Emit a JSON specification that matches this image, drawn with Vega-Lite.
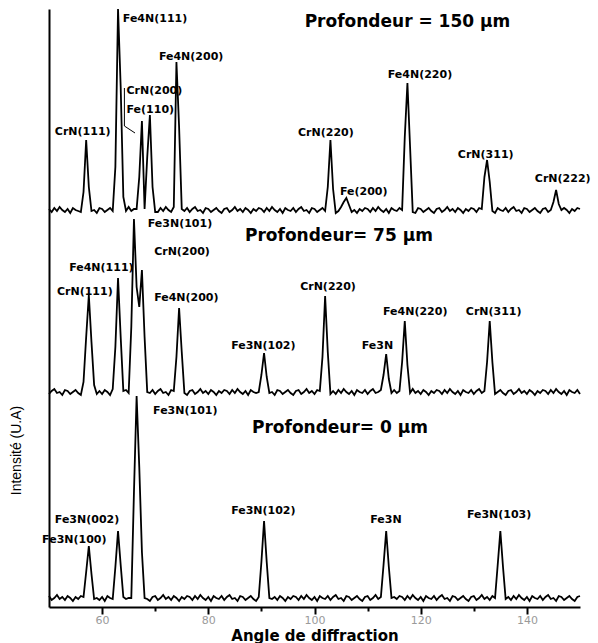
{
  "$schema": "https://vega.github.io/schema/vega-lite/v6.json",
  "width": 531,
  "height": 598,
  "autosize": "none",
  "padding": {"left": 49, "top": 9, "right": 18, "bottom": 36},
  "background": "white",
  "config": {"view": {"stroke": null}, "axis": {"grid": false}},
  "datasets": {
    "scans": [
      {"x":50,"h150":398,"h75":213,"h0":11},{"x":50.5,"h150":395,"h75":216,"h0":7},{"x":51,"h150":399,"h75":218,"h0":9},{"x":51.5,"h150":396,"h75":214,"h0":12},
      {"x":52,"h150":400,"h75":215,"h0":8},{"x":52.5,"h150":397,"h75":212,"h0":10},{"x":53,"h150":395,"h75":217,"h0":7},{"x":53.5,"h150":398,"h75":216,"h0":11},
      {"x":54,"h150":394,"h75":213,"h0":9},{"x":54.5,"h150":399,"h75":215,"h0":6},{"x":55,"h150":397,"h75":217,"h0":10},{"x":55.5,"h150":396,"h75":214,"h0":8},
      {"x":56,"h150":395,"h75":212,"h0":11},{"x":56.5,"h150":415,"h75":225,"h0":10},{"x":57,"h150":467,"h75":270,"h0":35},{"x":57.5,"h150":420,"h75":312,"h0":61},
      {"x":58,"h150":396,"h75":265,"h0":33},{"x":58.5,"h150":397,"h75":222,"h0":8},{"x":59,"h150":394,"h75":213,"h0":9},{"x":59.5,"h150":399,"h75":216,"h0":7},
      {"x":60,"h150":398,"h75":213,"h0":10},{"x":60.5,"h150":395,"h75":217,"h0":6},{"x":61,"h150":397,"h75":215,"h0":11},{"x":61.5,"h150":399,"h75":212,"h0":9},
      {"x":62,"h150":396,"h75":218,"h0":8},{"x":62.5,"h150":440,"h75":260,"h0":40},{"x":63,"h150":598,"h75":329,"h0":76},{"x":63.5,"h150":520,"h75":270,"h0":42},
      {"x":64,"h150":410,"h75":216,"h0":10},{"x":64.5,"h150":396,"h75":217,"h0":8},{"x":65,"h150":400,"h75":214,"h0":9},{"x":65.5,"h150":396,"h75":280,"h0":9},
      {"x":66,"h150":398,"h75":388,"h0":115},{"x":66.5,"h150":398,"h75":320,"h0":211},{"x":67,"h150":430,"h75":300,"h0":140},{"x":67.5,"h150":486,"h75":337,"h0":55},
      {"x":68,"h150":398,"h75":270,"h0":9},{"x":68.5,"h150":450,"h75":215,"h0":8},{"x":69,"h150":492,"h75":214,"h0":6},{"x":69.5,"h150":420,"h75":217,"h0":10},
      {"x":70,"h150":395,"h75":213,"h0":11},{"x":70.5,"h150":395,"h75":216,"h0":7},{"x":71,"h150":399,"h75":218,"h0":9},{"x":71.5,"h150":396,"h75":214,"h0":12},
      {"x":72,"h150":400,"h75":215,"h0":8},{"x":72.5,"h150":397,"h75":212,"h0":10},{"x":73,"h150":395,"h75":217,"h0":7},{"x":73.5,"h150":400,"h75":216,"h0":11},
      {"x":74,"h150":545,"h75":250,"h0":9},{"x":74.5,"h150":480,"h75":299,"h0":6},{"x":75,"h150":398,"h75":255,"h0":10},{"x":75.5,"h150":396,"h75":214,"h0":8},
      {"x":76,"h150":399,"h75":212,"h0":11},{"x":76.5,"h150":395,"h75":216,"h0":10},{"x":77,"h150":398,"h75":217,"h0":7},{"x":77.5,"h150":400,"h75":213,"h0":11},
      {"x":78,"h150":396,"h75":215,"h0":8},{"x":78.5,"h150":397,"h75":218,"h0":12},{"x":79,"h150":394,"h75":214,"h0":9},{"x":79.5,"h150":399,"h75":216,"h0":7},
      {"x":80,"h150":398,"h75":213,"h0":10},{"x":80.5,"h150":395,"h75":217,"h0":6},{"x":81,"h150":397,"h75":215,"h0":11},{"x":81.5,"h150":399,"h75":212,"h0":9},
      {"x":82,"h150":396,"h75":216,"h0":8},{"x":82.5,"h150":394,"h75":214,"h0":11},{"x":83,"h150":398,"h75":217,"h0":7},{"x":83.5,"h150":399,"h75":216,"h0":10},
      {"x":84,"h150":395,"h75":213,"h0":12},{"x":84.5,"h150":397,"h75":217,"h0":8},{"x":85,"h150":400,"h75":214,"h0":9},{"x":85.5,"h150":396,"h75":218,"h0":6},
      {"x":86,"h150":398,"h75":215,"h0":11},{"x":86.5,"h150":395,"h75":213,"h0":10},{"x":87,"h150":399,"h75":216,"h0":7},{"x":87.5,"h150":397,"h75":212,"h0":9},
      {"x":88,"h150":394,"h75":217,"h0":11},{"x":88.5,"h150":398,"h75":215,"h0":8},{"x":89,"h150":396,"h75":214,"h0":6},{"x":89.5,"h150":399,"h75":215,"h0":10},
      {"x":90,"h150":398,"h75":232,"h0":45},{"x":90.5,"h150":395,"h75":254,"h0":86},{"x":91,"h150":399,"h75":230,"h0":45},{"x":91.5,"h150":396,"h75":214,"h0":9},
      {"x":92,"h150":400,"h75":215,"h0":8},{"x":92.5,"h150":397,"h75":212,"h0":10},{"x":93,"h150":395,"h75":217,"h0":7},{"x":93.5,"h150":398,"h75":216,"h0":11},
      {"x":94,"h150":394,"h75":213,"h0":9},{"x":94.5,"h150":399,"h75":215,"h0":6},{"x":95,"h150":397,"h75":217,"h0":10},{"x":95.5,"h150":396,"h75":214,"h0":8},
      {"x":96,"h150":399,"h75":212,"h0":11},{"x":96.5,"h150":395,"h75":216,"h0":10},{"x":97,"h150":398,"h75":217,"h0":7},{"x":97.5,"h150":400,"h75":213,"h0":11},
      {"x":98,"h150":396,"h75":215,"h0":8},{"x":98.5,"h150":397,"h75":218,"h0":12},{"x":99,"h150":394,"h75":214,"h0":9},{"x":99.5,"h150":399,"h75":216,"h0":7},
      {"x":100,"h150":398,"h75":213,"h0":10},{"x":100.5,"h150":395,"h75":217,"h0":6},{"x":101,"h150":397,"h75":216,"h0":11},{"x":101.5,"h150":399,"h75":250,"h0":9},
      {"x":102,"h150":396,"h75":311,"h0":8},{"x":102.5,"h150":420,"h75":255,"h0":11},{"x":103,"h150":467,"h75":213,"h0":7},{"x":103.5,"h150":418,"h75":216,"h0":10},
      {"x":104,"h150":394,"h75":213,"h0":12},{"x":104.5,"h150":396,"h75":217,"h0":8},{"x":105,"h150":400,"h75":214,"h0":9},{"x":105.5,"h150":405,"h75":218,"h0":6},
      {"x":106,"h150":409,"h75":215,"h0":11},{"x":106.5,"h150":402,"h75":213,"h0":10},{"x":107,"h150":395,"h75":216,"h0":7},{"x":107.5,"h150":397,"h75":212,"h0":9},
      {"x":108,"h150":394,"h75":217,"h0":11},{"x":108.5,"h150":398,"h75":215,"h0":8},{"x":109,"h150":396,"h75":214,"h0":6},{"x":109.5,"h150":399,"h75":217,"h0":10},
      {"x":110,"h150":398,"h75":213,"h0":11},{"x":110.5,"h150":395,"h75":216,"h0":7},{"x":111,"h150":399,"h75":218,"h0":9},{"x":111.5,"h150":396,"h75":214,"h0":12},
      {"x":112,"h150":400,"h75":215,"h0":8},{"x":112.5,"h150":397,"h75":217,"h0":10},{"x":113,"h150":395,"h75":232,"h0":42},{"x":113.5,"h150":398,"h75":253,"h0":76},
      {"x":114,"h150":394,"h75":228,"h0":40},{"x":114.5,"h150":399,"h75":214,"h0":9},{"x":115,"h150":397,"h75":217,"h0":10},{"x":115.5,"h150":396,"h75":214,"h0":8},
      {"x":116,"h150":399,"h75":216,"h0":11},{"x":116.5,"h150":397,"h75":245,"h0":10},{"x":117,"h150":470,"h75":286,"h0":7},{"x":117.5,"h150":524,"h75":242,"h0":11},
      {"x":118,"h150":460,"h75":214,"h0":8},{"x":118.5,"h150":395,"h75":218,"h0":12},{"x":119,"h150":394,"h75":214,"h0":9},{"x":119.5,"h150":399,"h75":216,"h0":7},
      {"x":120,"h150":398,"h75":213,"h0":10},{"x":120.5,"h150":395,"h75":217,"h0":6},{"x":121,"h150":397,"h75":215,"h0":11},{"x":121.5,"h150":399,"h75":212,"h0":9},
      {"x":122,"h150":396,"h75":216,"h0":8},{"x":122.5,"h150":394,"h75":214,"h0":11},{"x":123,"h150":398,"h75":217,"h0":7},{"x":123.5,"h150":399,"h75":216,"h0":10},
      {"x":124,"h150":395,"h75":213,"h0":12},{"x":124.5,"h150":397,"h75":217,"h0":8},{"x":125,"h150":400,"h75":214,"h0":9},{"x":125.5,"h150":396,"h75":218,"h0":6},
      {"x":126,"h150":398,"h75":215,"h0":11},{"x":126.5,"h150":395,"h75":213,"h0":10},{"x":127,"h150":399,"h75":216,"h0":7},{"x":127.5,"h150":397,"h75":212,"h0":9},
      {"x":128,"h150":394,"h75":217,"h0":11},{"x":128.5,"h150":398,"h75":215,"h0":8},{"x":129,"h150":396,"h75":214,"h0":6},{"x":129.5,"h150":399,"h75":217,"h0":10},
      {"x":130,"h150":398,"h75":213,"h0":11},{"x":130.5,"h150":395,"h75":216,"h0":7},{"x":131,"h150":399,"h75":218,"h0":9},{"x":131.5,"h150":398,"h75":214,"h0":12},
      {"x":132,"h150":430,"h75":216,"h0":8},{"x":132.5,"h150":447,"h75":245,"h0":10},{"x":133,"h150":425,"h75":286,"h0":7},{"x":133.5,"h150":396,"h75":245,"h0":11},
      {"x":134,"h150":394,"h75":213,"h0":9},{"x":134.5,"h150":399,"h75":215,"h0":42},{"x":135,"h150":397,"h75":217,"h0":76},{"x":135.5,"h150":396,"h75":214,"h0":40},
      {"x":136,"h150":399,"h75":212,"h0":8},{"x":136.5,"h150":395,"h75":216,"h0":10},{"x":137,"h150":398,"h75":217,"h0":7},{"x":137.5,"h150":400,"h75":213,"h0":11},
      {"x":138,"h150":396,"h75":215,"h0":8},{"x":138.5,"h150":397,"h75":218,"h0":12},{"x":139,"h150":394,"h75":214,"h0":9},{"x":139.5,"h150":399,"h75":216,"h0":7},
      {"x":140,"h150":398,"h75":213,"h0":10},{"x":140.5,"h150":395,"h75":217,"h0":6},{"x":141,"h150":397,"h75":215,"h0":11},{"x":141.5,"h150":399,"h75":212,"h0":9},
      {"x":142,"h150":396,"h75":216,"h0":8},{"x":142.5,"h150":394,"h75":214,"h0":11},{"x":143,"h150":398,"h75":217,"h0":7},{"x":143.5,"h150":399,"h75":216,"h0":10},
      {"x":144,"h150":395,"h75":213,"h0":12},{"x":144.5,"h150":397,"h75":217,"h0":8},{"x":145,"h150":405,"h75":214,"h0":9},{"x":145.5,"h150":417,"h75":218,"h0":6},
      {"x":146,"h150":403,"h75":215,"h0":11},{"x":146.5,"h150":397,"h75":213,"h0":10},{"x":147,"h150":399,"h75":216,"h0":7},{"x":147.5,"h150":397,"h75":212,"h0":9},
      {"x":148,"h150":394,"h75":217,"h0":11},{"x":148.5,"h150":398,"h75":215,"h0":8},{"x":149,"h150":396,"h75":214,"h0":6},{"x":149.5,"h150":399,"h75":217,"h0":10},
      {"x":150,"h150":398,"h75":213,"h0":11}
    ],
    "peaks": [
      {"label":"Fe4N(111)","x":63.9,"y":588},
      {"label":"Fe4N(200)","x":70.7,"y":550},
      {"label":"CrN(200)","x":64.6,"y":516},
      {"label":"Fe(110)","x":64.6,"y":497},
      {"label":"CrN(111)","x":51.1,"y":475},
      {"label":"CrN(220)","x":96.9,"y":474},
      {"label":"Fe(200)","x":104.8,"y":415},
      {"label":"Fe4N(220)","x":113.8,"y":532},
      {"label":"CrN(311)","x":127.0,"y":452},
      {"label":"CrN(222)","x":141.5,"y":428},
      {"label":"Fe3N(101)","x":68.6,"y":383},
      {"label":"CrN(200)","x":69.8,"y":355},
      {"label":"Fe4N(111)","x":53.8,"y":339},
      {"label":"CrN(111)","x":51.5,"y":315},
      {"label":"Fe4N(200)","x":69.8,"y":309},
      {"label":"Fe3N(102)","x":84.3,"y":261},
      {"label":"CrN(220)","x":97.3,"y":320},
      {"label":"Fe3N","x":108.9,"y":261},
      {"label":"Fe4N(220)","x":112.9,"y":295},
      {"label":"CrN(311)","x":128.5,"y":295},
      {"label":"Fe3N(101)","x":69.6,"y":196},
      {"label":"Fe3N(002)","x":51.1,"y":87},
      {"label":"Fe3N(100)","x":48.7,"y":67},
      {"label":"Fe3N(102)","x":84.3,"y":96},
      {"label":"Fe3N","x":110.5,"y":87},
      {"label":"Fe3N(103)","x":128.7,"y":92}
    ],
    "depths": [
      {"label":"Profondeur = 150 µm","x":117.5,"y":585},
      {"label":"Profondeur= 75 µm","x":104.6,"y":371},
      {"label":"Profondeur= 0 µm","x":104.8,"y":179}
    ],
    "leader": [
      {"k":0,"x":64.2,"y":519},
      {"k":1,"x":64.2,"y":481},
      {"k":2,"x":66.2,"y":474}
    ]
  },
  "layer": [
    {
      "data": {"name": "peaks"},
      "mark": {"type": "text", "font": "DejaVu Sans", "fontWeight": "bold", "fontSize": 11, "align": "left", "baseline": "middle", "color": "black"},
      "encoding": {
        "x": {"field": "x", "type": "quantitative"},
        "y": {"field": "y", "type": "quantitative"},
        "text": {"field": "label"}
      }
    },
    {
      "data": {"name": "depths"},
      "mark": {"type": "text", "font": "DejaVu Sans", "fontWeight": "bold", "fontSize": 17, "align": "center", "baseline": "middle", "color": "black"},
      "encoding": {
        "x": {"field": "x", "type": "quantitative"},
        "y": {"field": "y", "type": "quantitative"},
        "text": {"field": "label"}
      }
    },
    {
      "data": {"name": "leader"},
      "mark": {"type": "line", "color": "black", "strokeWidth": 1},
      "encoding": {
        "x": {"field": "x", "type": "quantitative"},
        "y": {"field": "y", "type": "quantitative"},
        "order": {"field": "k"}
      }
    },
    {
      "data": {"name": "scans"},
      "transform": [{"fold": ["h150", "h75", "h0"], "as": ["depth", "y"]}],
      "mark": {"type": "line", "color": "black", "strokeWidth": 1.8},
      "encoding": {
        "x": {
          "field": "x", "type": "quantitative",
          "scale": {"domain": [50, 150], "nice": false, "zero": false},
          "axis": {
            "values": [60, 70, 80, 90, 100, 110, 120, 130, 140],
            "labelExpr": "datum.value % 20 === 0 ? datum.label : ''",
            "tickSize": {"condition": {"test": "datum.value % 20 === 0", "value": 7}, "value": 4},
            "tickWidth": 2, "tickColor": "black",
            "domainColor": "black", "domainWidth": 2,
            "labelColor": "#9a9a9a", "labelFont": "DejaVu Sans", "labelFontSize": 11, "labelPadding": 0,
            "title": "Angle de diffraction", "titleFont": "DejaVu Sans", "titleFontSize": 15,
            "titleFontWeight": "bold", "titleColor": "black", "titleY": 33, "titleBaseline": "alphabetic"
          }
        },
        "y": {
          "field": "y", "type": "quantitative",
          "scale": {"domain": [0, 598], "nice": false, "zero": false},
          "axis": {
            "ticks": false, "labels": false,
            "domainColor": "black", "domainWidth": 2,
            "title": "Intensité (U.A)", "titleFont": "Liberation Sans Narrow, Liberation Sans", "titleFontSize": 14,
            "titleFontWeight": "normal", "titleColor": "black",
            "titleX": -33, "titleY": 441, "titleAngle": -90, "titleAlign": "center", "titleBaseline": "middle"
          }
        },
        "detail": {"field": "depth"}
      }
    }
  ]
}
